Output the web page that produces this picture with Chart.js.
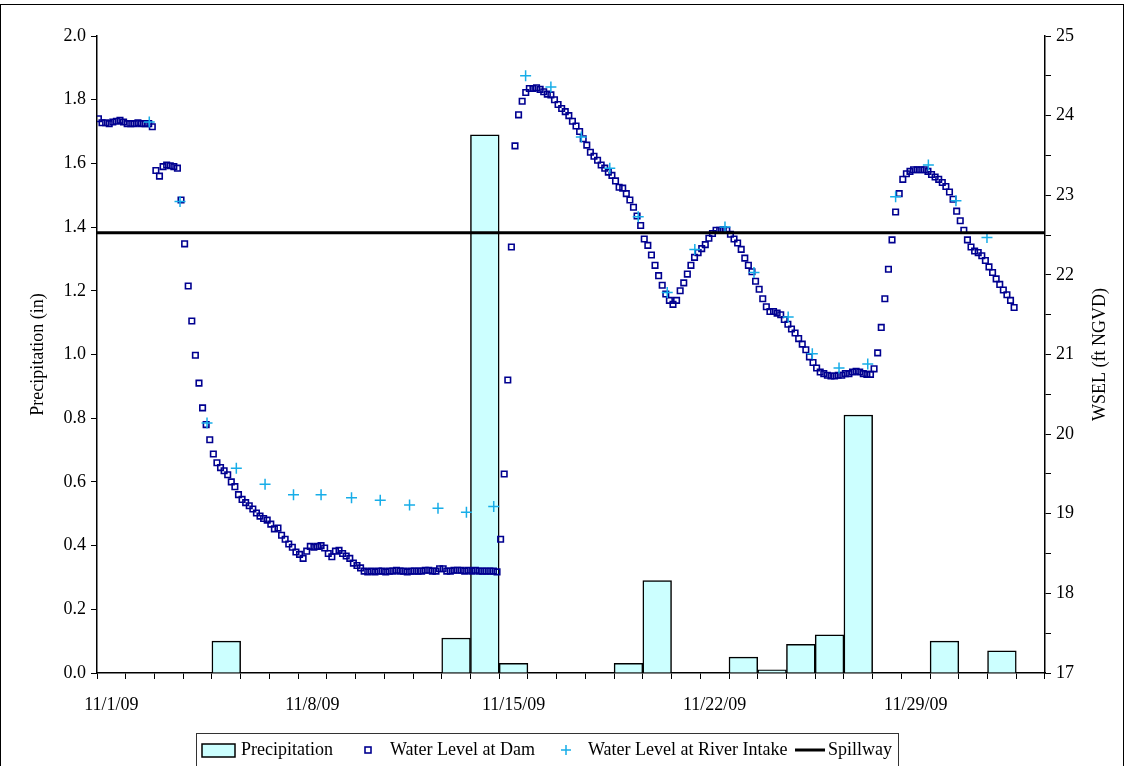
<!DOCTYPE html>
<html>
<head>
<meta charset="utf-8">
<script src="https://cdn.jsdelivr.net/npm/chart.js@4.4.0/dist/chart.umd.min.js"></script>
<style>
  html, body { margin: 0; padding: 0; background: #fff; }
  #wrap { width: 1125px; height: 766px; }
</style>
</head>
<body>
<div id="wrap"><canvas id="chart" width="1125" height="766"></canvas></div>
<script>
// daily categories (x axis)
var days = ['11/1/09','11/2/09','11/3/09','11/4/09','11/5/09','11/6/09','11/7/09',
            '11/8/09','11/9/09','11/10/09','11/11/09','11/12/09','11/13/09','11/14/09',
            '11/15/09','11/16/09','11/17/09','11/18/09','11/19/09','11/20/09','11/21/09',
            '11/22/09','11/23/09','11/24/09','11/25/09','11/26/09','11/27/09','11/28/09',
            '11/29/09','11/30/09','12/1/09','12/2/09','12/3/09'];

// daily precipitation (in)
var precip = [0,0,0,0,0.10,0,0, 0,0,0,0,0,0.11,1.69, 0.03,0,0,0,0.03,0.29,0,
              0,0.05,0.01,0.09,0.12,0.81,0, 0,0.10,0,0.07,0];

// water level at dam (ft NGVD), 3-hourly readings from 11/1
var damStart = 0.05;   // days after 11/1 0:00
var damStep = 0.125;   // 3 hours
var damLevel = [
  23.96,23.91,23.91,23.90,23.92,23.93,23.94,23.92,23.90,23.90,23.90,23.91,23.90,23.90,23.90,23.86,
  23.31,23.24,23.36,23.38,23.37,23.36,23.34,22.94,22.39,21.86,21.42,20.99,20.64,20.33,20.12,19.93,
  19.75,19.64,19.58,19.54,19.49,19.40,19.34,19.24,19.18,19.14,19.10,19.06,19.01,18.97,18.94,18.92,
  18.87,18.81,18.82,18.73,18.68,18.62,18.58,18.52,18.49,18.44,18.53,18.59,18.58,18.59,18.60,18.57,
  18.50,18.46,18.53,18.54,18.50,18.47,18.44,18.38,18.35,18.32,18.28,18.27,
  18.28,18.27,18.28,18.28,18.27,18.28,18.28,18.29,18.28,18.28,18.27,18.28,18.28,18.28,18.28,18.29,
  18.29,18.28,18.28,18.31,18.31,18.28,18.28,18.29,18.29,18.29,18.28,18.29,18.28,18.29,18.28,18.28,
  18.28,18.28,18.28,18.27,
  18.68,19.50,20.68,22.35,23.62,24.01,24.18,24.29,24.34,24.34,24.35,24.33,24.30,24.27,24.26,24.20,
  24.14,24.09,24.05,24.00,23.93,23.87,23.80,23.71,23.63,23.54,23.49,23.44,23.38,23.34,23.29,23.25,
  23.18,23.10,23.09,23.02,22.94,22.85,22.74,22.62,22.45,22.37,22.25,22.12,21.99,21.87,21.76,21.68,
  21.63,21.68,21.80,21.90,22.01,22.12,22.22,22.28,22.33,22.38,22.46,22.52,22.56,22.56,22.57,22.56,
  22.51,22.45,22.40,22.32,22.21,22.12,22.04,21.92,21.82,21.70,21.60,21.54,21.54,21.52,21.50,21.44,
  21.38,21.32,21.27,21.20,21.13,21.06,20.97,20.90,20.83,20.78,20.76,20.74,20.73,20.73,20.74,20.74,
  20.76,20.76,20.78,20.79,20.78,20.76,20.75,20.75,20.82,21.02,21.34,21.70,22.07,22.44,22.79,23.02,
  23.20,23.27,23.30,23.32,23.32,23.32,23.32,23.30,23.26,23.23,23.20,23.16,23.11,23.04,22.95,22.80,
  22.68,22.56,22.44,22.35,22.30,22.28,22.24,22.18,22.10,22.03,21.95,21.88,21.81,21.75,21.68,21.59
];

// water level at river intake (ft NGVD), roughly daily
var intakeDays = [1.82,2.89,3.83,4.85,5.85,6.84,7.80,8.86,9.86,10.88,11.87,12.86,13.81,14.92,15.80,
                  16.86,17.85,18.84,19.85,20.81,21.86,22.87,24.06,24.90,25.83,26.83,27.80,28.94,29.90,30.98];
var intakeLevel = [23.92,22.92,20.14,19.57,19.37,19.24,19.24,19.20,19.17,19.11,19.07,19.02,19.09,24.50,24.36,
                   23.73,23.34,22.73,21.78,22.32,22.60,22.03,21.47,21.01,20.83,20.88,22.98,23.38,22.93,22.47];

// spillway crest (ft NGVD)
var spillway = [22.53, 22.53];

var FONT = '"Liberation Serif", "Times New Roman", serif';
var damColor = '#000090';
var intakeColor = '#17ade8';
var barFill = '#ccffff';

var damPts = damLevel.map(function(v, i){ return {x: damStart + i * damStep, y: v}; });
var intakePts = intakeLevel.map(function(v, i){ return {x: intakeDays[i], y: v}; });
var spillPts = [{x: 0, y: spillway[0]}, {x: days.length, y: spillway[1]}];

var frame = {
  id: 'frame',
  beforeDraw: function(chart){
    var c = chart.ctx;
    c.save();
    c.fillStyle = '#fff';
    c.fillRect(0, 0, chart.width, chart.height);
    c.restore();
  },
  afterDraw: function(chart){
    var c = chart.ctx;
    var area = chart.chartArea;
    c.save();
    // outer border
    c.strokeStyle = '#000';
    c.lineWidth = 1;
    c.strokeRect(0.5, 4.5, 1123, 780);

    c.font = '18px ' + FONT;
    c.fillStyle = '#000';

    // right axis title, reads bottom to top
    c.save();
    c.translate(1100, (area.top + area.bottom) / 2);
    c.rotate(-Math.PI / 2);
    c.textAlign = 'center';
    c.textBaseline = 'middle';
    c.fillText('WSEL (ft NGVD)', 0, 0);
    c.restore();

    // legend box
    c.strokeStyle = '#333';
    c.lineWidth = 1;
    c.strokeRect(196.5, 733.5, 702, 50);
    var ly = 750;
    c.textBaseline = 'middle';

    // Precipitation
    c.fillStyle = barFill;
    c.fillRect(202, ly - 6, 33, 13);
    c.strokeStyle = '#000';
    c.lineWidth = 1.5;
    c.strokeRect(202, ly - 6, 33, 13);
    c.fillStyle = '#000';
    c.fillText('Precipitation', 241, ly);

    // dam marker
    c.strokeStyle = damColor;
    c.lineWidth = 1.6;
    c.strokeRect(365, ly - 3, 6, 6);
    c.fillText('Water Level at Dam', 390, ly);

    // intake marker
    c.strokeStyle = intakeColor;
    c.lineWidth = 1.5;
    c.beginPath();
    c.moveTo(561, ly); c.lineTo(571, ly);
    c.moveTo(566, ly - 5); c.lineTo(566, ly + 5);
    c.stroke();
    c.fillText('Water Level at River Intake', 588, ly);

    // spillway
    c.strokeStyle = '#000';
    c.lineWidth = 3;
    c.beginPath();
    c.moveTo(795, ly); c.lineTo(825, ly);
    c.stroke();
    c.fillText('Spillway', 828, ly);
    c.restore();
  }
};

var tickFont = { family: FONT, size: 18 };

new Chart(document.getElementById('chart'), {
  type: 'bar',
  data: {
    labels: days,
    datasets: [
      {
        type: 'line', label: 'Spillway', data: spillPts,
        xAxisID: 'xt', yAxisID: 'y2',
        borderColor: '#000', borderWidth: 3, pointRadius: 0, order: 0
      },
      {
        type: 'scatter', label: 'Water Level at River Intake', data: intakePts,
        xAxisID: 'xt', yAxisID: 'y2',
        pointStyle: 'cross', pointRadius: 5.5, borderColor: intakeColor, borderWidth: 1.5,
        backgroundColor: intakeColor, order: 1
      },
      {
        type: 'scatter', label: 'Water Level at Dam', data: damPts,
        xAxisID: 'xt', yAxisID: 'y2',
        pointStyle: 'rect', pointRadius: 3.9, borderColor: damColor, borderWidth: 1.6,
        backgroundColor: 'rgba(0,0,0,0)', order: 2
      },
      {
        type: 'bar', label: 'Precipitation', data: precip,
        xAxisID: 'x', yAxisID: 'y',
        backgroundColor: barFill, borderColor: '#000', borderWidth: 1.5,
        grouped: false, barPercentage: 1, categoryPercentage: 1, order: 3
      }
    ]
  },
  options: {
    responsive: false,
    animation: false,
    devicePixelRatio: 1,
    layout: { padding: { top: 36, left: 0, right: 0, bottom: 41 } },
    plugins: { legend: { display: false }, tooltip: { enabled: false } },
    scales: {
      x: {
        type: 'category',
        offset: true,
        grid: { offset: true, drawOnChartArea: false, drawTicks: true, tickLength: 6, color: '#000' },
        border: { color: '#000', width: 1.5 },
        ticks: {
          autoSkip: false, maxRotation: 0, minRotation: 0, padding: 15,
          color: '#000', font: tickFont,
          callback: function(v, i){ return i % 7 === 0 ? days[i] : ''; }
        },
        afterFit: function(s){ s.height = 52; }
      },
      xt: { type: 'linear', display: false, offset: false, min: 0, max: days.length },
      y: {
        position: 'left', min: 0, max: 2,
        grid: { drawOnChartArea: false, tickLength: 6, color: '#000' },
        border: { color: '#000', width: 1.5 },
        ticks: { stepSize: 0.2, padding: 5, color: '#000', font: tickFont,
                 callback: function(v){ return v.toFixed(1); } },
        title: { display: true, text: 'Precipitation (in)', color: '#000', font: tickFont, padding: { top: 27, bottom: 0 } },
        afterFit: function(s){ s.width = 97; }
      },
      y2: {
        position: 'right', min: 17, max: 25,
        grid: { drawOnChartArea: false, tickLength: 6, color: '#000' },
        border: { color: '#000', width: 1.5 },
        ticks: { stepSize: 0.5, padding: 5, color: '#000', font: tickFont,
                 callback: function(v){ return Number.isInteger(v) ? v : ''; } },
        afterFit: function(s){ s.width = 80; }
      }
    }
  },
  plugins: [frame]
});
</script>
</body>
</html>
